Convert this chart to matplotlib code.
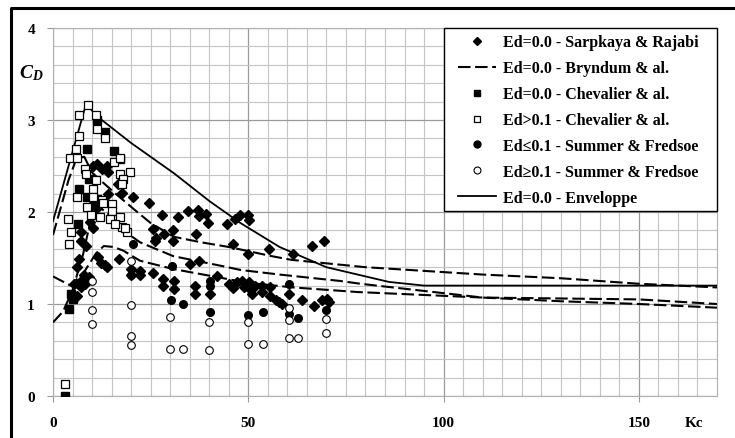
import matplotlib
matplotlib.use("Agg")
import matplotlib.pyplot as plt
from matplotlib.lines import Line2D
from matplotlib.patches import Rectangle
from matplotlib.ticker import MultipleLocator

plt.rcParams['font.family'] = ['Liberation Serif', 'DejaVu Serif']
plt.rcParams['mathtext.fontset'] = 'custom'
plt.rcParams['mathtext.it'] = 'Liberation Serif:italic:bold'
plt.rcParams['mathtext.rm'] = 'Liberation Serif:bold'

# ---- data ----
sarpkaya_x = [9.5, 10.3, 11.2, 10.3, 11.2, 13.8, 14.2, 12.5, 14.2, 16.7, 17.6, 20.5, 24.5, 27.9, 32.1,
              34.5, 37.0, 37.4, 39.1, 39.6, 44.5, 46.7, 48.0, 49.8, 50.1,
              25.6, 26.4, 26.2, 28.3, 30.8, 30.7, 36.6, 46.2, 50.0, 55.2,
              9.5, 10.3, 7.2, 8.5, 7.1,
              6.7, 6.2, 8.0, 9.1, 8.2, 7.1, 5.4, 6.9, 6.1, 11.6, 12.4, 13.2, 13.8, 16.9, 19.9, 19.9,
              22.3, 22.3, 25.7, 35.0, 37.5, 42.1,
              28.1, 28.1, 31.0, 31.0, 36.4, 36.4, 40.3, 45.0, 46.0, 47.0, 49.0,
              61.5, 66.2, 69.3,
              48.4, 50.1, 50.5, 50.9, 51.8, 53.5, 53.5, 55.6, 55.6, 57.2, 57.8, 58.6, 60.3,
              63.8, 66.7, 68.9, 70.2, 70.6]
sarpkaya_y = [2.05, 2.09, 2.04, 2.50, 2.52, 2.50, 2.43, 2.47, 2.20, 2.30, 2.21, 2.16, 2.10, 1.97, 1.95,
              2.01, 2.02, 1.96, 1.98, 1.88, 1.87, 1.92, 1.97, 1.97, 1.91,
              1.81, 1.72, 1.69, 1.76, 1.80, 1.68, 1.76, 1.65, 1.54, 1.60,
              1.89, 1.83, 1.69, 1.63, 1.78,
              1.49, 1.40, 1.31, 1.29, 1.22, 1.18, 1.22, 1.24, 1.09, 1.51, 1.45, 1.42, 1.40, 1.49, 1.38, 1.31,
              1.36, 1.31, 1.34, 1.43, 1.47, 1.30,
              1.27, 1.20, 1.25, 1.16, 1.20, 1.11, 1.11, 1.22, 1.17, 1.24, 1.19,
              1.54, 1.63, 1.68,
              1.25, 1.24, 1.16, 1.11, 1.20, 1.20, 1.13, 1.18, 1.09, 1.04, 1.02, 1.00, 1.11,
              1.04, 0.98, 1.04, 1.05, 1.02]

chev0_x = [11.2, 13.3, 8.6, 15.6, 17.2, 6.6, 8.7, 11.2, 6.3, 4.5, 5.2, 4.0, 3.0, 9.1]
chev0_y = [3.00, 2.87, 2.69, 2.66, 2.58, 2.25, 2.16, 2.14, 1.87, 1.11, 1.05, 0.95, 0.00, 2.36]

chev1_x = [8.9, 6.7, 10.9, 11.2, 13.3, 6.7, 5.9, 4.3, 6.1, 15.5, 17.2, 8.2, 8.5, 17.2, 19.7, 17.9,
           17.6, 10.3, 6.1, 10.3, 12.5, 12.9, 15.0, 3.9, 15.0, 4.5, 4.2, 17.2, 17.6, 19.0, 14.6,
           16.0, 18.5, 3.1, 11.0, 8.6, 9.7, 12.0]
chev1_y = [3.16, 3.05, 3.05, 2.90, 2.80, 2.83, 2.68, 2.59, 2.59, 2.54, 2.59, 2.47, 2.41, 2.41, 2.43, 2.36,
           2.30, 2.25, 2.16, 2.16, 2.13, 2.10, 2.09, 1.92, 2.01, 1.78, 1.65, 1.95, 1.84, 1.78, 1.92,
           1.87, 1.83, 0.13, 2.35, 2.05, 1.97, 1.95]

sumf_x = [30.2, 33.3, 40.1, 50.0, 53.8, 60.3, 62.7, 70.0, 20.4, 30.4, 40.3, 20.0, 60.3, 40.3]
sumf_y = [1.04, 1.00, 0.91, 0.88, 0.91, 0.89, 0.85, 0.93, 1.65, 1.41, 1.25, 1.31, 1.22, 1.20]

sumo_x = [10, 10, 10, 10, 20, 20, 20, 20, 30, 30, 33.3, 40, 40, 50, 50, 53.8, 60.3, 60.3, 60.3, 62.7, 70, 70]
sumo_y = [1.25, 1.13, 0.93, 0.78, 1.47, 0.99, 0.65, 0.55, 0.86, 0.51, 0.51, 0.80, 0.50, 0.80, 0.56, 0.57,
          0.96, 0.83, 0.63, 0.63, 0.84, 0.68]

bryA_x = [0, 2, 4, 6, 8, 10, 12, 16, 21, 25, 31, 38, 45, 56, 61, 80, 110, 130, 150, 160, 170]
bryA_y = [1.75, 2.05, 2.35, 2.58, 2.60, 2.43, 2.35, 2.20, 2.02, 1.88, 1.73, 1.67, 1.62, 1.52, 1.48, 1.40,
          1.32, 1.28, 1.22, 1.20, 1.18]
bryB_x = [0, 2.6, 5, 7.7, 10, 12, 15, 18, 22.3, 30.8, 43.6, 48, 58, 73.6, 78.7, 110, 130, 150, 170]
bryB_y = [0.80, 0.92, 1.15, 1.54, 1.98, 2.05, 1.95, 1.80, 1.67, 1.52, 1.41, 1.37, 1.32, 1.25, 1.22, 1.07,
          1.03, 1.00, 0.96]
bryC_x = [0, 4.5, 8, 11, 13, 15.5, 18, 22.3, 30.8, 43.6, 50, 61.5, 78, 110, 130, 150, 170]
bryC_y = [1.30, 1.20, 1.35, 1.55, 1.63, 1.62, 1.58, 1.47, 1.38, 1.28, 1.23, 1.18, 1.13, 1.07, 1.06, 1.05, 1.00]

env_x = [0, 8.5, 11, 20, 31, 40, 48, 58, 70, 86, 95, 170]
env_y = [1.90, 3.18, 3.05, 2.75, 2.42, 2.12, 1.88, 1.62, 1.40, 1.24, 1.20, 1.20]

x_ticks = [0, 50, 100, 150]
y_ticks = [0, 1, 2, 3, 4]

# ---- figure ----
W, H = 735, 439
AX_L, AX_R, AX_T, AX_B = 53, 717, 29, 397
fig = plt.figure(figsize=(W / 100, H / 100), dpi=100)
ax = fig.add_axes([AX_L / W, 1 - AX_B / H, (AX_R - AX_L) / W, (AX_B - AX_T) / H])

ax.set_xlim(0, 170)
ax.set_ylim(0, 4)
ax.xaxis.set_major_locator(MultipleLocator(50))
ax.xaxis.set_minor_locator(MultipleLocator(5))
ax.yaxis.set_major_locator(MultipleLocator(1))
ax.yaxis.set_minor_locator(MultipleLocator(0.2))
ax.grid(which='minor', color='#c4c4c4', lw=0.8)
ax.grid(which='major', color='#9a9a9a', lw=0.9)
ax.set_axisbelow(True)
for s in ax.spines.values():
    s.set_color('#b0b0b0')
    s.set_linewidth(0.8)
ax.tick_params(which='major', length=4, color='#9a9a9a', labelsize=11)
ax.tick_params(axis='x', which='major', pad=10.5)
ax.tick_params(axis='y', which='major', pad=9)
ax.tick_params(which='minor', length=0)
ax.set_xticks(x_ticks)
ax.set_yticks(y_ticks)
for lab in ax.get_xticklabels() + ax.get_yticklabels():
    lab.set_fontweight('bold')

dash = (6, 2.2)
ax.plot(env_x, env_y, color='black', lw=1.3, zorder=3)
ax.plot(bryA_x, bryA_y, color='black', lw=1.5, dashes=dash, zorder=3)
ax.plot(bryB_x, bryB_y, color='black', lw=1.5, dashes=dash, zorder=3)
ax.plot(bryC_x, bryC_y, color='black', lw=1.5, dashes=dash, zorder=3)

ms = 5.5
ax.plot(sarpkaya_x, sarpkaya_y, 'D', ms=5.5, color='black', ls='none', zorder=4)
ax.plot(chev0_x, chev0_y, 's', ms=ms, color='black', ls='none', zorder=4)
ax.plot(chev1_x, chev1_y, 's', ms=ms, mfc='white', mec='black', mew=0.9, ls='none', zorder=5)
ax.plot(sumf_x, sumf_y, 'o', ms=ms, color='black', ls='none', zorder=4)
ax.plot(sumo_x, sumo_y, 'o', ms=ms, mfc='white', mec='black', mew=0.8, ls='none', zorder=4)

# legend box (drawn explicitly to match the reference size)
LG_L, LG_B = 444, 212
box = Rectangle(((LG_L - AX_L) / (AX_R - AX_L), (AX_B - LG_B) / (AX_B - AX_T)),
                (AX_R - LG_L) / (AX_R - AX_L), (LG_B - AX_T) / (AX_B - AX_T),
                transform=ax.transAxes, facecolor='white', edgecolor='black', lw=1.0, zorder=9,
                clip_on=False)
ax.add_patch(box)

handles = [
    Line2D([], [], marker='D', ms=4.5, color='black', ls='none'),
    Line2D([], [], color='black', lw=1.5, dashes=dash),
    Line2D([], [], marker='s', ms=5, color='black', ls='none'),
    Line2D([], [], marker='s', ms=5, mfc='white', mec='black', mew=0.9, ls='none'),
    Line2D([], [], marker='o', ms=5, color='black', ls='none'),
    Line2D([], [], marker='o', ms=5, mfc='white', mec='black', mew=0.8, ls='none'),
    Line2D([], [], color='black', lw=1.3),
]
labels = ['Ed=0.0 - Sarpkaya & Rajabi', 'Ed=0.0 - Bryndum & al.', 'Ed=0.0 - Chevalier & al.',
          'Ed>0.1 - Chevalier & al.', 'Ed\u22640.1 - Summer & Fredsoe', 'Ed\u22650.1 - Summer & Fredsoe',
          'Ed=0.0 - Enveloppe']
leg = ax.legend(handles, labels, loc='upper left',
                bbox_to_anchor=((451.6 - AX_L) / (AX_R - AX_L), 1.0), borderaxespad=0,
                frameon=False, labelspacing=0.62,
                handlelength=2.4, handletextpad=0.4, borderpad=0.4,
                prop={'family': ['Liberation Serif', 'DejaVu Serif'], 'weight': 'bold', 'size': 11.5})
leg.set_zorder(10)

ax.text(-0.032, 0.88, r'$C_D$', transform=ax.transAxes, fontsize=14, ha='center', va='center')
ax.text(0.965, -0.072, 'Kc', transform=ax.transAxes, fontsize=11, fontweight='bold',
        ha='center', va='center')

# outer frame (left and top)
fig.add_artist(Line2D([11 / W, 11 / W, 1.0], [0, 1 - 9 / H, 1 - 9 / H], transform=fig.transFigure,
                      color='black', lw=2.2))

fig.savefig('out.png', dpi=100)
